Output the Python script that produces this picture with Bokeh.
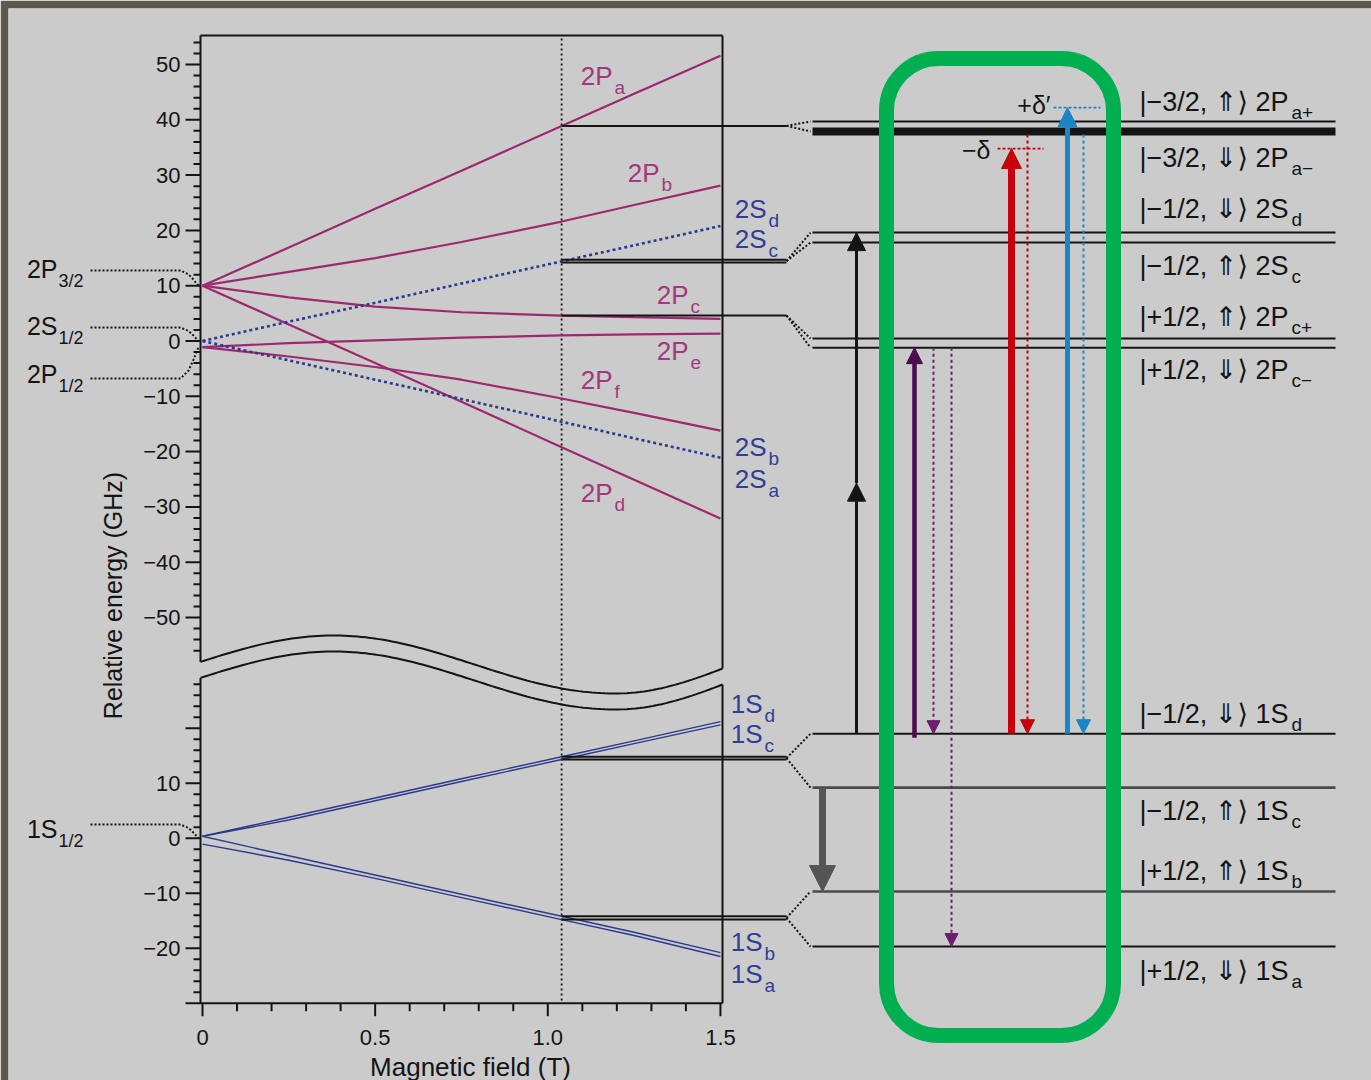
import math
from bokeh.plotting import figure
from bokeh.models import Range1d, Arrow, NormalHead
from bokeh.core.properties import value
from bokeh.embed import file_html
from bokeh.resources import INLINE

W, H, PAD = 1371, 1080, 8

# ---------------------------------------------------------------------------
# Zeeman levels of hydrogen versus magnetic field
# ---------------------------------------------------------------------------
field_T = [0.0, 0.25, 0.5, 0.75, 1.04, 1.25, 1.5]

# n = 2 manifold (GHz, relative to 2S1/2)
E_2Pa = [10.0, 16.9, 23.9, 30.8, 38.9, 44.7, 51.6]
E_2Pb = [10.0, 12.5, 15.0, 17.9, 21.6, 24.6, 28.1]
E_2Pc = [10.0, 7.9, 6.2, 5.2, 4.6, 4.3, 4.0]
E_2Pe = [-1.1, -0.4, 0.1, 0.6, 1.0, 1.2, 1.35]
E_2Pf = [-1.1, -2.8, -4.7, -7.0, -10.4, -13.0, -16.2]
E_2Pd = [10.0, 3.0, -4.0, -11.0, -19.2, -25.1, -32.1]
E_2Sdc = [0.0, 3.5, 6.9, 10.4, 14.4, 17.3, 20.8]
E_2Sba = [0.0, -3.5, -7.0, -10.5, -14.6, -17.6, -21.1]

# n = 1 manifold (GHz, relative to 1S1/2)
E_1Sd = [0.35, 3.8, 7.3, 10.8, 14.8, 17.7, 21.2]
E_1Sc = [0.35, 3.3, 6.8, 10.3, 14.3, 17.2, 20.6]
E_1Sb = [0.35, -3.2, -6.7, -10.2, -14.2, -17.1, -20.8]
E_1Sa = [-1.07, -4.0, -7.3, -10.8, -14.8, -17.7, -21.5]

B_WORK = 1.04          # working field (T)
I_WORK = field_T.index(B_WORK)
conn_2S = [14.7, 14.2]  # 2Sd / 2Sc at the working field

# zero-field fine-structure levels
zero_n2 = [10.0, 0.0, -1.1]      # 2P3/2, 2S1/2, 2P1/2
zero_n1 = [0.0]                  # 1S1/2

# expanded level diagram at the working field
levels_n2 = [39.7, 37.9, 19.6, 17.8, 0.45, -1.2]   # 2Pa+, 2Pa-, 2Sd, 2Sc, 2Pc+, 2Pc-
levels_n1 = [19.0, 9.2, -9.7, -19.7]               # 1Sd, 1Sc, 1Sb, 1Sa
detune_minus = 34.8     # 2Pa- shifted by -delta
detune_plus = 42.2      # 2Pa+ shifted by +delta'

# axis ticks
y_major_n2 = [50, 40, 30, 20, 10, 0, -10, -20, -30, -40, -50]
y_labels_n2 = ["50", "40", "30", "20", "10", "0", "−10", "−20", "−30", "−40", "−50"]
y_major_n1 = [20, 10, 0, -10, -20]
y_labels_n1 = ["", "10", "0", "−10", "−20"]
x_major = [0.0, 0.5, 1.0, 1.5]
x_labels = ["0", "0.5", "1.0", "1.5"]

# ---------------------------------------------------------------------------
# scales: pixels of the page <-> field / energy
# ---------------------------------------------------------------------------
B0_PX, PX_PER_T = 202.0, 345.3
E2_ZERO_PX, PX_PER_GHZ2 = 340.5, 5.53
E1_ZERO_PX, PX_PER_GHZ1 = 837.7, 5.5


def px_t(b):
    return B0_PX + b * PX_PER_T


def px_n2(g):
    return E2_ZERO_PX - g * PX_PER_GHZ2


def px_n1(g):
    return E1_ZERO_PX - g * PX_PER_GHZ1


BG = "#cbcbcb"
EDGE = "#5d594c"
INK = "#141414"
MAG = "#9e2870"
MAG_TXT = "#a2387f"
NAVY = "#2a3a8c"
NAVY_TXT = "#2d3f96"
GREEN = "#00b050"
RED = "#c6000c"
BLUE = "#1b86c6"
PURPLE = "#4a0c4e"
PURPLE_DOT = "#6c1f6c"
GREY = "#555555"
FONT = "Liberation Sans"
FONT_SYM = "Liberation Sans, DejaVu Sans"

p = figure(
    width=W, height=H, output_backend="svg", toolbar_location=None,
    x_range=Range1d((PAD - B0_PX) / PX_PER_T, (W - B0_PX) / PX_PER_T),
    y_range=Range1d((E2_ZERO_PX - H) / PX_PER_GHZ2, (E2_ZERO_PX - PAD) / PX_PER_GHZ2),
    x_axis_location=None, y_axis_location=None,
    min_border_left=PAD, min_border_top=PAD, min_border_right=0, min_border_bottom=0,
    background_fill_color=BG, border_fill_color=EDGE, outline_line_color=None,
)
p.grid.visible = False
p.extra_x_ranges = {"page": Range1d(PAD, W)}
p.extra_y_ranges = {
    "page": Range1d(H, PAD),
    "n1": Range1d((E1_ZERO_PX - H) / PX_PER_GHZ1, (E1_ZERO_PX - PAD) / PX_PER_GHZ1),
}


def txt(xs, ys, texts, size, color=INK, align="left", baseline="middle",
        xr="default", yr="default", angle=0.0, font=FONT, style="normal"):
    p.text(x=xs, y=ys, text=texts, text_font=value(font), text_font_size=size,
           text_color=color, text_align=align, text_baseline=baseline,
           angle=angle, text_font_style=style, x_range_name=xr, y_range_name=yr)


# ---------------------------------------------------------------------------
# panel frame with broken energy axis
# ---------------------------------------------------------------------------
PL, PR, PT, PB = 200, 722, 35, px_n1(-30)


def wave(x, shift):
    if x <= 615:
        y = 664 - 29 * math.cos(math.pi * (x - 333) / 282)
    else:
        y = 664 + 29 * math.cos(math.pi * (x - 615) / 235)
    return y + shift


wx = [PL + i * (PR - PL) / 120 for i in range(121)]
for sh in (0, 16):
    p.line(wx, [wave(x, sh) for x in wx], line_color=INK, line_width=2,
           x_range_name="page", y_range_name="page")

p.segment(x0=[PL, PL, PR, PR, PL, 185], y0=[PT, wave(PL, 16), PT, wave(PR, 16), PT, PB],
          x1=[PL, PL, PR, PR, PR, PR], y1=[wave(PL, 0), PB, wave(PR, 0), PB, PT, PB],
          line_color=INK, line_width=2, x_range_name="page", y_range_name="page")

# y ticks (upper: n = 2, lower: n = 1)
minor_n2 = [v for v in range(-56, 55, 2) if v % 10]
minor_n1 = [v for v in range(-28, 29, 2) if v % 10]
p.segment(x0=[185] * len(y_major_n2), x1=[PL] * len(y_major_n2), y0=y_major_n2, y1=y_major_n2,
          line_color=INK, line_width=2, x_range_name="page")
p.segment(x0=[193] * len(minor_n2), x1=[PL] * len(minor_n2), y0=minor_n2, y1=minor_n2,
          line_color=INK, line_width=2, x_range_name="page")
p.segment(x0=[185] * len(y_major_n1), x1=[PL] * len(y_major_n1), y0=y_major_n1, y1=y_major_n1,
          line_color=INK, line_width=2, x_range_name="page", y_range_name="n1")
p.segment(x0=[193] * len(minor_n1), x1=[PL] * len(minor_n1), y0=minor_n1, y1=minor_n1,
          line_color=INK, line_width=2, x_range_name="page", y_range_name="n1")
txt([180] * len(y_major_n2), y_major_n2, y_labels_n2, "22px", align="right", xr="page")
txt([180] * len(y_major_n1), y_major_n1, y_labels_n1, "22px", align="right", xr="page", yr="n1")

# x ticks
minor_x = [i / 10 for i in range(16) if i % 5]
p.segment(x0=x_major, x1=x_major, y0=[PB] * 4, y1=[PB + 13] * 4,
          line_color=INK, line_width=2, y_range_name="page")
p.segment(x0=minor_x, x1=minor_x, y0=[PB] * len(minor_x), y1=[PB + 8] * len(minor_x),
          line_color=INK, line_width=2, y_range_name="page")
txt(x_major, [1037] * 4, x_labels, "22px", align="center", yr="page")

txt([470], [1066], ["Magnetic field (T)"], "26px", align="center", yr="page", xr="page")
txt([112], [595], ["Relative energy (GHz)"], "25px", align="center", xr="page", yr="page",
    angle=math.pi / 2)

# working-field marker
p.segment(x0=[B_WORK], x1=[B_WORK], y0=[38], y1=[PB], line_color=INK, line_width=1.8,
          line_dash="2 3", y_range_name="page")

# ---------------------------------------------------------------------------
# level curves
# ---------------------------------------------------------------------------
for e in (E_2Pa, E_2Pb, E_2Pc, E_2Pe, E_2Pf, E_2Pd):
    p.line(field_T, e, line_color=MAG, line_width=2.2)
for e in (E_2Sdc, E_2Sba):
    p.line(field_T, e, line_color=NAVY, line_width=2.6, line_dash="3 3")
for e in (E_1Sd, E_1Sc, E_1Sb, E_1Sa):
    p.line(field_T, e, line_color=NAVY, line_width=1.4, y_range_name="n1")

# ---------------------------------------------------------------------------
# working-field levels carried over to the expanded diagram
# ---------------------------------------------------------------------------
X_WORK = px_t(B_WORK)
X_ELBOW, X_LEVEL, X_END = 786, 812, 1335

conn_rows = [
    ([px_n2(E_2Pa[I_WORK])], [px_n2(levels_n2[0]), px_n2(levels_n2[1])]),
    ([px_n2(v) for v in conn_2S], [px_n2(levels_n2[2]), px_n2(levels_n2[3])]),
    ([px_n2(E_2Pc[I_WORK])], [px_n2(levels_n2[4]), px_n2(levels_n2[5])]),
    ([px_n1(E_1Sd[I_WORK]), px_n1(E_1Sc[I_WORK])], [px_n1(levels_n1[0]), px_n1(levels_n1[1])]),
    ([px_n1(E_1Sb[I_WORK]), px_n1(E_1Sa[I_WORK])], [px_n1(levels_n1[2]), px_n1(levels_n1[3])]),
]
for starts, ends in conn_rows:
    p.segment(x0=[X_WORK] * len(starts), x1=[X_ELBOW] * len(starts), y0=starts, y1=starts,
              line_color=INK, line_width=2, x_range_name="page", y_range_name="page")
    y_mid = sum(starts) / len(starts)
    p.segment(x0=[X_ELBOW, X_ELBOW], x1=[X_LEVEL - 2, X_LEVEL - 2], y0=[y_mid, y_mid], y1=ends,
              line_color=INK, line_width=2, line_dash="2 2",
              x_range_name="page", y_range_name="page")

# expanded level diagram
n2_widths = [2, 8, 2, 2, 2, 2]
p.segment(x0=[X_LEVEL] * 6, x1=[X_END] * 6, y0=levels_n2, y1=levels_n2,
          line_color=INK, line_width=n2_widths, x_range_name="page")
p.segment(x0=[X_LEVEL] * 4, x1=[X_END] * 4, y0=levels_n1, y1=levels_n1,
          line_color=[INK, "#4a4a4a", "#4a4a4a", INK], line_width=[2, 2.6, 2.6, 2],
          x_range_name="page", y_range_name="n1")

# detuning markers
p.segment(x0=[997, 1053], x1=[1043, 1100], y0=[detune_minus, detune_plus],
          y1=[detune_minus, detune_plus], line_color=[RED, BLUE], line_width=1.8,
          line_dash="3 2", x_range_name="page")
txt([990], [px_n2(detune_minus) + 1], ["−δ"], "25px", align="right", xr="page", yr="page")
txt([1050], [px_n2(detune_plus) - 3], ["+δ′"], "25px", align="right", xr="page", yr="page")

# selection box
p.quad(left=[886], right=[1113], top=[58], bottom=[1035], border_radius=52,
       fill_alpha=0, line_color=GREEN, line_width=15,
       x_range_name="page", y_range_name="page")


# transitions
def arrow(x, y0, y1, color, width, head, dash="solid"):
    p.add_layout(Arrow(
        end=NormalHead(size=head, fill_color=color, line_color=color, line_width=1),
        x_start=x, y_start=y0, x_end=x, y_end=y1,
        line_color=color, line_width=width, line_dash=dash,
        x_range_name="page", y_range_name="page"))


y_1Sd = px_n1(levels_n1[0])
y_mid = (y_1Sd + px_n2(levels_n2[2])) / 2
arrow(856, y_1Sd, y_mid, INK, 3, 18)
arrow(856, y_mid, px_n2(levels_n2[2]), INK, 3, 18)
arrow(914, y_1Sd + 4, px_n2(levels_n2[5]), PURPLE, 4.5, 16)
arrow(933, px_n2(levels_n2[5]), y_1Sd, PURPLE_DOT, 2, 13, "3 3")
arrow(951, px_n2(levels_n2[5]), px_n1(levels_n1[3]), PURPLE_DOT, 2, 13, "3 3")
arrow(1011, y_1Sd, px_n2(detune_minus), RED, 7, 20)
arrow(1027, px_n2(levels_n2[1]) + 3, y_1Sd, RED, 2, 14, "3 3")
arrow(1067, y_1Sd, px_n2(detune_plus), BLUE, 5, 19)
arrow(1083, px_n2(levels_n2[1]) + 3, y_1Sd, BLUE, 2, 14, "3 3")
arrow(822, px_n1(levels_n1[1]), px_n1(levels_n1[2]), GREY, 7, 26)

# ---------------------------------------------------------------------------
# labels
# ---------------------------------------------------------------------------
# zero-field terms on the left with their leader lines
term_main = ["2P", "2S", "2P", "1S"]
term_sub = ["3/2", "1/2", "1/2", "1/2"]
term_y = [268, 325, 373, 828]
lead_y = [270, 327, 378, 824]
lead_end = [px_n2(zero_n2[0]), px_n2(zero_n2[1]), px_n2(zero_n2[2]), px_n1(zero_n1[0])]
txt([57] * 4, term_y, term_main, "25px", align="right", xr="page", yr="page")
txt([58] * 4, [v + 12 for v in term_y], term_sub, "18px", xr="page", yr="page")
lx, ly = [], []
for yh, ye in zip(lead_y, lead_end):
    lx.append([90, 180, 188, 193, 198])
    ly.append([yh, yh, yh + 0.25 * (ye - yh), yh + 0.6 * (ye - yh), ye])
p.multi_line(lx, ly, line_color=INK, line_width=2, line_dash="2 2",
             x_range_name="page", y_range_name="page")

# curve names
p_main_x = [612, 659, 688, 688, 612, 612]
p_main_y = [75, 172, 294, 350, 379, 492]
p_sub = ["a", "b", "c", "e", "f", "d"]
txt(p_main_x, p_main_y, ["2P"] * 6, "26px", MAG_TXT, align="right", xr="page", yr="page")
txt([v + 2 for v in p_main_x], [v + 12 for v in p_main_y], p_sub, "19px", MAG_TXT,
    xr="page", yr="page")

s_main_x = [766, 766, 766, 766, 762, 762, 762, 762]
s_main_y = [208, 238, 446, 478, 703, 733, 941, 973]
s_main = ["2S", "2S", "2S", "2S", "1S", "1S", "1S", "1S"]
s_sub = ["d", "c", "b", "a", "d", "c", "b", "a"]
txt(s_main_x, s_main_y, s_main, "26px", NAVY_TXT, align="right", xr="page", yr="page")
txt([v + 2 for v in s_main_x], [v + 12 for v in s_main_y], s_sub, "19px", NAVY_TXT,
    xr="page", yr="page")

# state kets on the right
ket_text = ["|−3/2, ⇑⟩ 2P", "|−3/2, ⇓⟩ 2P", "|−1/2, ⇓⟩ 2S", "|−1/2, ⇑⟩ 2S",
            "|+1/2, ⇑⟩ 2P", "|+1/2, ⇓⟩ 2P", "|−1/2, ⇓⟩ 1S", "|−1/2, ⇑⟩ 1S",
            "|+1/2, ⇑⟩ 1S", "|+1/2, ⇓⟩ 1S"]
ket_sub = ["a+", "a−", "d", "c", "c+", "c−", "d", "c", "b", "a"]
ket_y = [101, 157, 208, 265, 316, 369, 713, 810, 870, 970]
txt([1288] * 10, ket_y, ket_text, "27px", align="right", xr="page", yr="page", font=FONT_SYM)
txt([1291] * 10, [v + 11 for v in ket_y], ket_sub, "19px", xr="page", yr="page")

open("out.html", "w").write(file_html(p, INLINE))
